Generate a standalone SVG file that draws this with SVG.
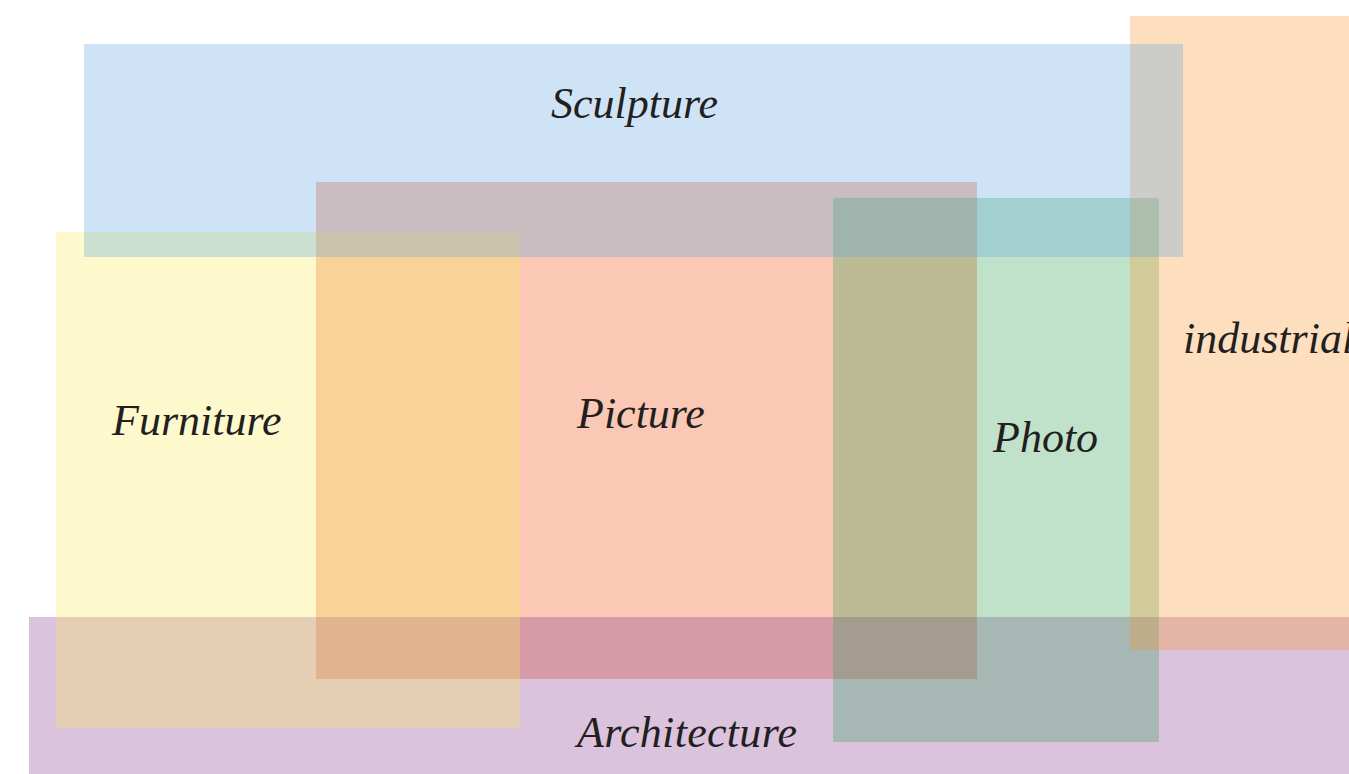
<svg xmlns="http://www.w3.org/2000/svg" width="1349" height="774" viewBox="0 0 1349 774">
<style>
.box{fill-opacity:0.3}
.lbl{font-family:"Liberation Serif","DejaVu Serif",serif;font-style:italic;font-size:44px;fill:#231f20}
</style>
<rect width="1349" height="774" fill="#ffffff"/>
<g id="picture"><rect class="box" x="316" y="182" width="661" height="497" fill="rgb(238,72,8)"/></g>
<g id="architecture"><rect class="box" x="29" y="617" width="1320" height="157" fill="rgb(135,52,142)"/></g>
<g id="furniture"><rect class="box" x="56" y="232" width="464" height="496" fill="rgb(250,234,85)"/></g>
<g id="photo"><rect class="box" x="833" y="198" width="326" height="544" fill="rgb(45,158,82)"/></g>
<g id="industrial"><rect class="box" x="1130" y="16" width="219" height="634" fill="rgb(247,148,42)"/></g>
<g id="sculpture"><rect class="box" x="84" y="44" width="1099" height="213" fill="rgb(92,164,226)"/></g>
<g id="labels">
<text class="lbl" x="551" y="118">Sculpture</text>
<text class="lbl" x="112" y="435">Furniture</text>
<text class="lbl" x="577" y="428">Picture</text>
<text class="lbl" x="993" y="452">Photo</text>
<text class="lbl" x="1183" y="353">industrial</text>
<text class="lbl" x="577" y="747" textLength="220">Architecture</text>
</g>
<g id="connectors"/>
</svg>
